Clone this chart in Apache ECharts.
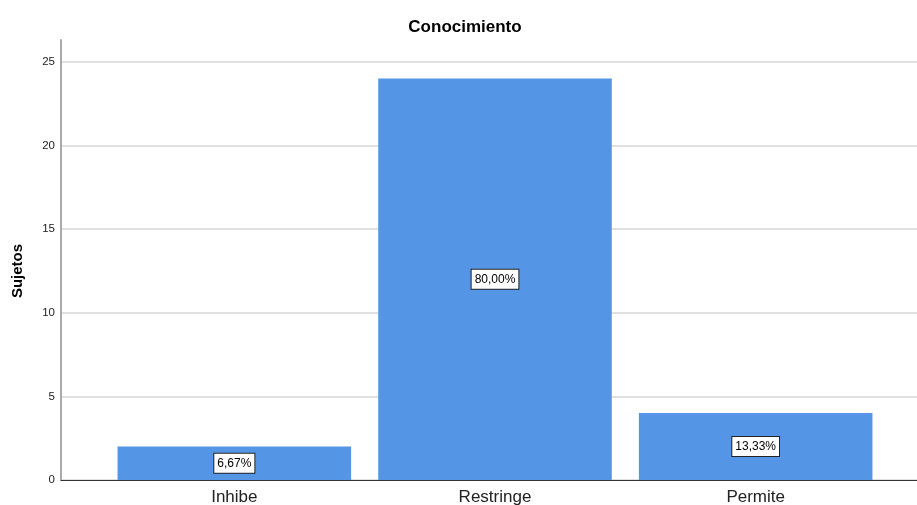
<!DOCTYPE html>
<html>
<head>
<meta charset="utf-8">
<script src="https://cdn.jsdelivr.net/npm/echarts@6/dist/echarts.min.js"></script>
<style>html,body{margin:0;padding:0;background:#fff}#c{width:917px;height:505px}</style>
</head>
<body>
<div id="c"></div>
<script>
const categories = ['Inhibe', 'Restringe', 'Permite'];
const values = [2, 24, 4];
const pctLabels = ['6,67%', '80,00%', '13,33%'];
const yTicks = [0, 5, 10, 15, 20, 25];

const chart = echarts.init(document.getElementById('c'));
const font = 'Liberation Sans, Arial, sans-serif';
chart.setOption({
  animation: false,
  title: {
    text: 'Conocimiento', left: 460, top: 14, textAlign: 'center',
    textStyle: { fontFamily: font, fontSize: 17, fontWeight: 'bold', color: '#000' }
  },
  grid: [
    { left: 61, right: 0, top: 62, bottom: 25, outerBoundsMode: 'none', containLabel: false },
    { left: 61, right: 0, top: 40, bottom: 25, outerBoundsMode: 'none', containLabel: false },
    { left: 104, right: 31, top: 40, bottom: 25, outerBoundsMode: 'none', containLabel: false }
  ],
  xAxis: [
    { gridIndex: 0, type: 'category', data: categories, axisLine: { show: true, lineStyle: { color: '#333', width: 1 } }, axisTick: { show: false }, axisLabel: { show: false } },
    { gridIndex: 1, type: 'category', data: categories, show: false },
    { gridIndex: 2, type: 'category', data: categories, axisLine: { show: false }, axisTick: { show: false },
      axisLabel: { fontFamily: font, fontSize: 17, color: '#222', margin: 9 } }
  ],
  yAxis: [
    { gridIndex: 0, type: 'value', min: 0, max: yTicks[yTicks.length - 1], interval: 5,
      name: 'Sujetos', nameLocation: 'middle', nameGap: 36,
      nameTextStyle: { fontFamily: font, fontSize: 15, fontWeight: 'bold', color: '#000' },
      axisLine: { show: false }, axisTick: { show: false },
      axisLabel: { fontFamily: font, fontSize: 11.5, color: '#222', margin: 6 },
      splitLine: { show: true, lineStyle: { color: '#d6d6d6', width: 1.5 } } },
    { gridIndex: 1, type: 'value', min: 0, max: 26.3,
      axisLine: { show: true, lineStyle: { color: '#aaaaaa', width: 2 } }, axisTick: { show: false },
      axisLabel: { show: false }, splitLine: { show: false } },
    { gridIndex: 2, type: 'value', min: 0, max: 26.3, show: false, splitLine: { show: false } }
  ],
  series: [{
    type: 'bar', xAxisIndex: 2, yAxisIndex: 2,
    data: values, barCategoryGap: '10.4%',
    itemStyle: { color: '#5595e6' },
    label: {
      show: true, position: 'inside',
      formatter: p => pctLabels[p.dataIndex],
      fontFamily: font, fontSize: 12, lineHeight: 14, color: '#000',
      backgroundColor: '#fff', borderColor: '#222', borderWidth: 1, padding: [3, 3, 2, 3]
    }
  }]
});
</script>
</body>
</html>
